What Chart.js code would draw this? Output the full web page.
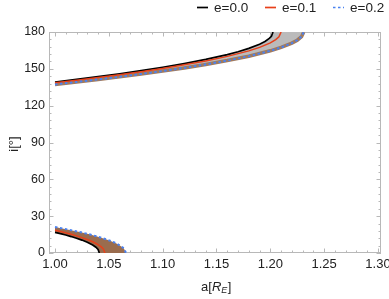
<!DOCTYPE html>
<html>
<head>
<meta charset="utf-8">
<script src="https://cdn.jsdelivr.net/npm/chart.js@4.4.0/dist/chart.umd.min.js"></script>
<style>
    html, body { margin: 0; padding: 0; background: #fff; }
    #wrap { width: 389px; height: 299px; }
</style>
</head>
<body>
<div id="wrap"><canvas id="myChart"></canvas></div>
<script>
// Upper branch (retrograde), i in degrees vs a in Earth radii
const aUpper00 = [1.00, 1.02, 1.04, 1.06, 1.08, 1.10, 1.12, 1.14, 1.16, 1.17, 1.18, 1.19, 1.195, 1.199, 1.201, 1.2025];
const iUpper00 = [139.2, 141.35, 143.6, 146.0, 148.55, 151.3, 154.3, 157.67, 161.62, 163.95, 166.66, 170.06, 172.31, 174.75, 176.56, 180];

const aUpper01 = [1.00, 1.02, 1.04, 1.06, 1.08, 1.10, 1.12, 1.14, 1.16, 1.18, 1.19, 1.20, 1.205, 1.208, 1.210];
const iUpper01 = [138.6, 140.71, 142.92, 145.23, 147.71, 150.35, 153.24, 156.45, 160.14, 164.64, 167.48, 171.15, 173.75, 176.05, 180];

const aUpper02 = [1.00, 1.02, 1.04, 1.06, 1.08, 1.10, 1.12, 1.14, 1.16, 1.18, 1.20, 1.21, 1.22, 1.225, 1.229, 1.231];
const iUpper02 = [137.3, 139.28, 141.33, 143.49, 145.77, 148.18, 150.76, 153.59, 156.72, 160.31, 164.69, 167.42, 170.92, 173.32, 176.19, 180];

// Lower branch (prograde)
const aLower00 = [1.000, 1.005, 1.010, 1.015, 1.020, 1.025, 1.030, 1.035, 1.038, 1.040, 1.0412];
const iLower00 = [16.8, 15.76, 14.62, 13.39, 12.03, 10.52, 8.74, 6.50, 4.68, 2.88, 0];

const aLower01 = [1.000, 1.005, 1.010, 1.015, 1.020, 1.025, 1.030, 1.035, 1.040, 1.043, 1.045, 1.0464];
const iLower01 = [18.5, 17.46, 16.38, 15.22, 13.94, 12.53, 10.97, 9.14, 6.85, 5.0, 3.2, 0];

const aLower02 = [1.000, 1.008, 1.016, 1.024, 1.032, 1.040, 1.048, 1.054, 1.058, 1.062, 1.064, 1.066];
const iLower02 = [21.2, 19.85, 18.42, 16.9, 15.2, 13.26, 11.02, 9.0, 7.34, 5.18, 3.66, 0];

const legendLabels = ['e=0.0', 'e=0.1', 'e=0.2'];
const xTicks = [1.00, 1.05, 1.10, 1.15, 1.20, 1.25, 1.30];
const yTicks = [0, 30, 60, 90, 120, 150, 180];

const colBlack = '#000000';
const colRed = '#e8401a';
const colBlue = '#4a82f0';
const colGray = '#bbbbbb';
const colBrown = '#9a6c4e';
const fontName = '"Liberation Sans", Arial, sans-serif';

function toPoints(xs, ys) {
    return xs.map((x, k) => ({ x: x, y: ys[k] }));
}

const upperBand = toPoints(aUpper00, iUpper00).concat(toPoints(aUpper02, iUpper02).reverse());
const lowerBand = toPoints(aLower00, iLower00).concat(toPoints(aLower02, iLower02).reverse());

function lineSet(data, color, width, order, extra) {
    return Object.assign({
        data: data,
        borderColor: color,
        borderWidth: width,
        pointRadius: 0,
        fill: false,
        tension: 0,
        order: order
    }, extra || {});
}

const datasets = [
    lineSet(upperBand, 'rgba(0,0,0,0)', 0, 9, { fill: 'shape', backgroundColor: colGray }),
    lineSet(lowerBand, 'rgba(0,0,0,0)', 0, 9, { fill: 'shape', backgroundColor: colBrown }),
    lineSet(toPoints(aUpper02, iUpper02), '#a27a5c', 3.5, 8),
    lineSet(toPoints(aUpper00, iUpper00), colBlack, 1.7, 3, { legend: 0 }),
    lineSet(toPoints(aLower00, iLower00), colBlack, 1.7, 3),
    lineSet(toPoints(aUpper01, iUpper01), colRed, 1.5, 2, { legend: 1 }),
    lineSet(toPoints(aLower01, iLower01), colRed, 1.5, 2),
    lineSet(toPoints(aUpper02, iUpper02), colBlue, 2, 1, { borderDash: [2.5, 2.5], legend: 2 }),
    lineSet(toPoints(aLower02, iLower02), colBlue, 2, 1, { borderDash: [2.5, 2.5] })
];

// frame, inside ticks, axis titles and legend like the original plot
const framePlugin = {
    id: 'framePlugin',
    beforeDatasetsDraw(chart) {
        const ctx = chart.ctx;
        const area = chart.chartArea;
        const xs = chart.scales.x;
        const ys = chart.scales.y;
        ctx.save();
        ctx.strokeStyle = '#b8b8b8';
        ctx.lineWidth = 1;
        ctx.strokeRect(area.left + 0.5, area.top + 0.5, area.right - area.left - 1, area.bottom - area.top - 1);
        ctx.beginPath();
        for (let k = 0; k <= 30; k++) {
            const v = 1.0 + k * 0.01;
            const px = Math.round(xs.getPixelForValue(v)) + 0.5;
            const len = (k % 5 === 0) ? 4.5 : 2.5;
            ctx.moveTo(px, area.bottom);
            ctx.lineTo(px, area.bottom - len);
            ctx.moveTo(px, area.top);
            ctx.lineTo(px, area.top + len);
        }
        for (let k = 0; k <= 30; k++) {
            const v = k * 6;
            const py = Math.round(ys.getPixelForValue(v)) + 0.5;
            const len = (k % 5 === 0) ? 4.5 : 2.5;
            ctx.moveTo(area.left, py);
            ctx.lineTo(area.left + len, py);
            ctx.moveTo(area.right, py);
            ctx.lineTo(area.right - len, py);
        }
        ctx.stroke();
        ctx.restore();
    },
    afterDraw(chart) {
        const ctx = chart.ctx;
        const area = chart.chartArea;
        ctx.save();
        ctx.fillStyle = '#222';
        ctx.textBaseline = 'middle';

        // x title: a[R_E]
        const big = '13px ' + fontName;
        const itBig = 'italic 13px ' + fontName;
        const itSmall = 'italic 9px ' + fontName;
        ctx.font = big;
        const w1 = ctx.measureText('a[').width;
        ctx.font = itBig;
        const w2 = ctx.measureText('R').width;
        ctx.font = itSmall;
        const w3 = ctx.measureText('E').width;
        ctx.font = big;
        const w4 = ctx.measureText(']').width;
        let x = (area.left + area.right) / 2 - (w1 + w2 + w3 + w4) / 2 + 1;
        const y = 287;
        ctx.textAlign = 'left';
        ctx.font = big; ctx.fillText('a[', x, y); x += w1;
        ctx.font = itBig; ctx.fillText('R', x, y); x += w2;
        ctx.font = itSmall; ctx.fillText('E', x, y + 3.5); x += w3 + 0.5;
        ctx.font = big; ctx.fillText(']', x, y);

        // y title
        ctx.save();
        ctx.translate(14, 144);
        ctx.rotate(-Math.PI / 2);
        ctx.textAlign = 'center';
        ctx.font = big;
        ctx.fillText('i[°]', 0, 0);
        ctx.restore();

        // legend
        const starts = [197, 265, 333];
        chart.data.datasets.forEach(ds => {
            if (ds.legend === undefined) return;
            const lx = starts[ds.legend];
            ctx.strokeStyle = ds.borderColor;
            ctx.lineWidth = 1.7;
            ctx.setLineDash(ds.borderDash || []);
            ctx.beginPath();
            ctx.moveTo(lx, 7.5);
            ctx.lineTo(lx + 11, 7.5);
            ctx.stroke();
            ctx.setLineDash([]);
            ctx.font = '13.5px ' + fontName;
            ctx.textAlign = 'left';
            ctx.fillText(legendLabels[ds.legend], lx + 17, 8);
        });
        ctx.restore();
    }
};

new Chart(document.getElementById('myChart').getContext('2d'), {
    type: 'line',
    data: { datasets: datasets },
    options: {
        responsive: true,
        maintainAspectRatio: false,
        animation: false,
        events: [],
        layout: { padding: { top: 32, right: 8, left: 0, bottom: 0 } },
        plugins: {
            legend: { display: false },
            tooltip: { enabled: false }
        },
        scales: {
            x: {
                type: 'linear',
                min: 0.99443,
                max: 1.30279,
                grid: { display: false, drawTicks: false },
                border: { display: false },
                afterBuildTicks: scale => { scale.ticks = xTicks.map(v => ({ value: v })); },
                afterFit: scale => { scale.height = 46; scale.paddingLeft = 0; scale.paddingRight = 0; },
                ticks: {
                    autoSkip: false,
                    maxRotation: 0,
                    padding: 4,
                    color: '#222',
                    font: { family: fontName, size: 13 },
                    callback: v => Number(v).toFixed(2)
                }
            },
            y: {
                type: 'linear',
                min: 0,
                max: 180,
                grid: { display: false, drawTicks: false },
                border: { display: false },
                afterBuildTicks: scale => { scale.ticks = yTicks.map(v => ({ value: v })); },
                afterFit: scale => { scale.width = 49; },
                ticks: {
                    autoSkip: false,
                    padding: 4,
                    color: '#222',
                    font: { family: fontName, size: 12.5 }
                }
            }
        }
    },
    plugins: [framePlugin]
});
</script>
</body>
</html>
